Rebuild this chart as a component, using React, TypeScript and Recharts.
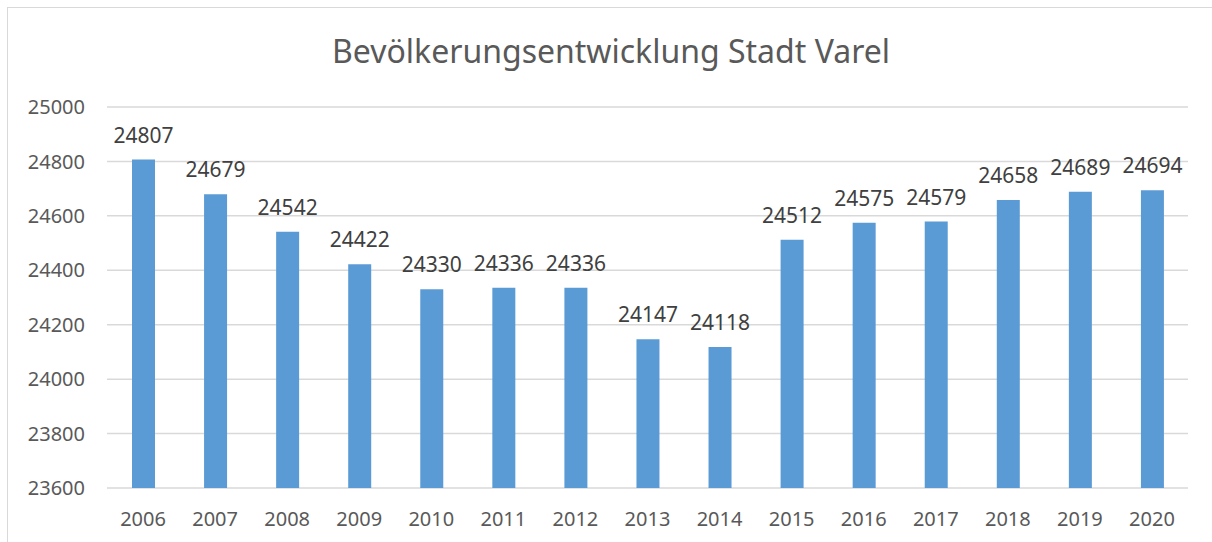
import React from 'react';
import {
  BarChart,
  Bar,
  XAxis,
  YAxis,
  CartesianGrid,
  LabelList,
} from 'recharts';

const years = [
  '2006', '2007', '2008', '2009', '2010', '2011', '2012', '2013',
  '2014', '2015', '2016', '2017', '2018', '2019', '2020',
];
const population = [
  24807, 24679, 24542, 24422, 24330, 24336, 24336, 24147,
  24118, 24512, 24575, 24579, 24658, 24689, 24694,
];
const yTicks = [23600, 23800, 24000, 24200, 24400, 24600, 24800, 25000];

const data = years.map((year, i) => ({ year, value: population[i] }));

const FONT = '"Noto Sans", "Open Sans", sans-serif';
const TEXT = '#595959';

const App: React.FC = () => {
  return (
    <div
      style={{
        position: 'absolute',
        left: 0,
        top: 0,
        width: 1212,
        height: 542,
        background: '#fff',
        overflow: 'hidden',
        fontFamily: FONT,
      }}
    >
      <div
        style={{
          position: 'absolute',
          left: 7,
          top: 7,
          width: 1260,
          height: 600,
          border: '1px solid #d9d9d9',
        }}
      />
      <div
        style={{
          position: 'absolute',
          left: 0,
          top: 29,
          width: 1222,
          textAlign: 'center',
          fontSize: 32,
          color: TEXT,
        }}
      >
        Bevölkerungsentwicklung Stadt Varel
      </div>
      <div style={{ position: 'absolute', left: 0, top: 0 }}>
        <BarChart
          width={1212}
          height={542}
          data={data}
          margin={{ top: 107, right: 24, left: 0, bottom: 0 }}
        >
          <CartesianGrid vertical={false} stroke='#d9d9d9' strokeWidth={1.5} />
          <XAxis
            dataKey='year'
            axisLine={false}
            tickLine={false}
            height={54}
            tickMargin={18}
            tick={{ fill: TEXT, fontSize: 20, fontFamily: FONT }}
          />
          <YAxis
            width={107}
            domain={[23600, 25000]}
            ticks={yTicks}
            axisLine={false}
            tickLine={false}
            tickMargin={16}
            tick={{ fill: TEXT, fontSize: 20, fontFamily: FONT }}
          />
          <Bar dataKey='value' fill='#5b9bd5' barSize={23} isAnimationActive={false}>
            <LabelList
              dataKey='value'
              position='top'
              offset={17}
              fill='#404040'
              fontSize={21}
              fontFamily={FONT}
            />
          </Bar>
        </BarChart>
      </div>
    </div>
  );
};

export default App;
